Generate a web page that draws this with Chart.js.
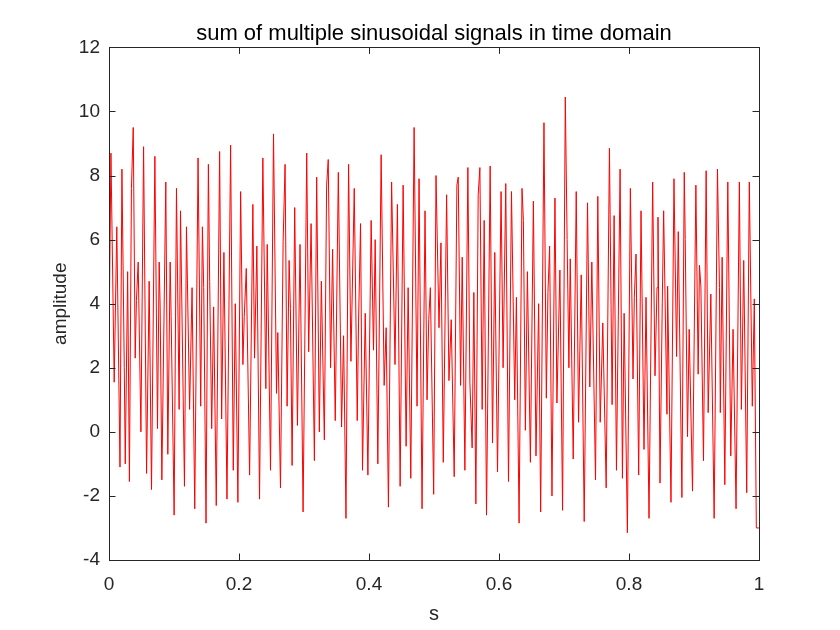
<!DOCTYPE html>
<html>
<head>
<meta charset="utf-8">
<script src="https://cdn.jsdelivr.net/npm/chart.js@4.4.1/dist/chart.umd.min.js"></script>
<style>
  html, body { margin: 0; padding: 0; background: #fff; }
  #wrap { width: 840px; height: 630px; }
</style>
</head>
<body>
<div id="wrap"><canvas id="grafico" width="840" height="630"></canvas></div>
<script>
const tempos = [
  0, 0.003, 0.008, 0.012, 0.0169, 0.0199, 0.0235, 0.025, 0.0287, 0.0314,
  0.0345, 0.0373, 0.0403, 0.0422, 0.0449, 0.0491, 0.0532, 0.0578, 0.0618, 0.0654,
  0.0706, 0.0746, 0.0772, 0.0787, 0.0813, 0.0874, 0.0905, 0.0941, 0.0956, 0.1002,
  0.1038, 0.1079, 0.110, 0.1161, 0.1192, 0.1240,
  0.1278, 0.1319, 0.137, 0.1411, 0.1437, 0.1457, 0.1493, 0.1529, 0.1549, 0.158,
  0.161, 0.165, 0.1702, 0.1733, 0.1768, 0.1815, 0.1871, 0.1912, 0.1943, 0.1983,
  0.2025, 0.206, 0.2081, 0.2112, 0.2163, 0.2213, 0.2239, 0.2275, 0.2316, 0.2367,
  0.2413, 0.2434, 0.2485,
  0.2531, 0.2577, 0.2597, 0.2638, 0.2679, 0.2709, 0.274, 0.2771, 0.2791, 0.2817,
  0.2857, 0.2899, 0.2939, 0.2986, 0.3042, 0.3072, 0.3109, 0.316, 0.3195, 0.3236,
  0.3267, 0.3313, 0.3348, 0.3373, 0.3409, 0.344, 0.3481, 0.3528, 0.3578, 0.3609,
  0.3646, 0.3686,
  0.3722, 0.3773, 0.3819, 0.3839, 0.387, 0.39, 0.3942, 0.3983, 0.4033, 0.4069,
  0.4095, 0.4136, 0.4187, 0.4233, 0.4264, 0.4299, 0.4348, 0.44, 0.4437, 0.4479,
  0.4525, 0.4571, 0.4602, 0.4643, 0.4694, 0.4739, 0.477, 0.4816, 0.4862, 0.4893,
  0.4919,
  0.4944, 0.4995, 0.5031, 0.5077, 0.5107, 0.5143, 0.5194, 0.523, 0.5265, 0.5311,
  0.5352, 0.5373, 0.5409, 0.5434, 0.5475, 0.5521, 0.5552, 0.5587, 0.5613, 0.5644,
  0.568, 0.5706, 0.5741, 0.5772, 0.5808, 0.5864, 0.59, 0.5935, 0.5977, 0.6032,
  0.6063, 0.6104, 0.6146,
  0.6192, 0.6242, 0.6268, 0.6309, 0.6354, 0.6375, 0.6406, 0.6437, 0.6483, 0.6529,
  0.6569, 0.661, 0.6641, 0.6692, 0.6728, 0.6753, 0.6779, 0.6815, 0.6861, 0.6891,
  0.6937, 0.6978, 0.702, 0.7048, 0.7075, 0.7096, 0.7142, 0.7188, 0.7224, 0.7265,
  0.7311, 0.7362,
  0.7397, 0.7428, 0.7485, 0.752, 0.7557, 0.7597, 0.7649, 0.7699, 0.774, 0.7771,
  0.7807, 0.7863, 0.7899, 0.7925, 0.7975, 0.8021, 0.8062, 0.8082, 0.8108, 0.8149,
  0.8185, 0.8231, 0.8262, 0.8308, 0.8364, 0.84, 0.8431, 0.8446, 0.8477, 0.8512,
  0.8533, 0.8584,
  0.8594, 0.8646, 0.8692, 0.8732, 0.8758, 0.8814, 0.885, 0.8865, 0.89, 0.8926,
  0.8977, 0.9029, 0.9064, 0.9084, 0.9106, 0.9146, 0.9187, 0.9218, 0.9259, 0.931,
  0.9361, 0.9392, 0.9405, 0.9433, 0.9474, 0.952, 0.9566, 0.9601, 0.9647, 0.9698,
  0.9729, 0.9765, 0.9811, 0.9851, 0.9897, 0.9928, 0.9959, 1.0
];

const amplitudes = [
  2.7, 8.7, 1.55, 6.4, -1.1, 8.2, 2.0, -1.0, 5.0, -1.55,
  7.6, 9.5, 2.3, 4.1, 5.3, 0.0, 8.9, -1.3, 4.7, -1.8,
  8.6, 0.1, 5.3, 3.9, -1.5, 7.8, -0.7, 5.3, 3.6, -2.6,
  7.6, 0.7, 6.9, -1.7, 6.4, 0.7,
  4.5, -2.4, 8.55, 0.8, 6.4, 4.5, -2.85, 8.35, 4.7, 0.1,
  3.9, -2.3, 8.75, 0.4, 5.6, -2.1, 8.95, -1.2, 4.0, -2.2,
  7.5, 2.1, 3.6, 5.1, -1.35, 7.1, 2.3, 5.8, -2.1, 8.55,
  1.35, 5.85, -1.2,
  9.3, 1.2, 3.1, -1.75, 5.95, 8.35, 0.8, 5.35, 3.85, -1.05,
  7.0, 0.2, 5.85, -2.5, 8.7, 2.5, 6.5, -0.9, 7.95, 0.0,
  4.7, -0.25, 7.7, 8.5, 2.0, 5.7, 0.35, 8.1, 0.15, 3.0,
  -2.7, 8.35,
  2.2, 7.6, 0.35, 3.4, 6.5, -1.2, 3.7, -1.35, 6.6, 2.55,
  6.0, -1.0, 8.65, 1.45, 3.25, -2.35, 7.8, 2.1, 7.1, -1.7,
  7.7, -0.45, 4.5, -1.45, 9.5, 0.8, 7.9, -2.4, 6.9, 1.0,
  3.5,
  4.5, -1.95, 8.0, 3.25, 5.9, -0.95, 7.4, 1.6, 3.5, -1.4,
  7.7, 7.95, 1.45, 5.45, -1.2, 8.25, 1.55, -0.5, 4.35, -2.25,
  7.4, 8.25, 0.7, 6.6, -2.6, 8.3, -0.35, 5.6, -1.25, 7.5,
  2.0, 7.75, -1.55,
  7.5, 1.0, 4.2, -2.85, 7.6, 6.6, 0.05, 5.0, -0.95, 7.2,
  -0.75, 4.0, -2.5, 9.65, 1.05, 4.35, 5.8, -2.0, 7.3, 0.9,
  5.05, -2.45, 10.45, 6.0, 2.0, 5.4, -0.85, 7.5, 0.3, 4.9,
  -2.8, 7.15,
  1.4, 5.3, -1.5, 7.35, 0.3, 3.4, -1.75, 8.85, 0.85, 6.75,
  -1.2, 8.2, -1.45, 3.7, -3.15, 7.6, 1.65, 4.2, 5.55, -1.35,
  6.9, -0.55, 4.2, -2.7, 7.8, 1.75, 4.5, 6.7, -1.6, 4.05,
  6.9, 0.55,
  4.55, -2.2, 7.9, 2.35, 6.25, -2.05, 8.1, 6.0, -0.15, 3.2,
  -1.85, 7.7, 1.8, 5.2, 4.55, -0.9, 8.15, 0.6, 4.3, -2.7,
  8.2, 4.5, 0.6, 5.45, -1.65, 7.8, -0.75, 3.2, -2.4, 7.8,
  0.7, 5.35, -1.9, 7.8, 0.8, 4.15, -3.0, -3.0
];

const xTicks = [0, 0.2, 0.4, 0.6, 0.8, 1];
const xTickLabels = ["0", "0.2", "0.4", "0.6", "0.8", "1"];
const yTicks = [-4, -2, 0, 2, 4, 6, 8, 10, 12];
const yTickLabels = ["-4", "-2", "0", "2", "4", "6", "8", "10", "12"];

const corEixo = "#262626";
const fonte = "'Liberation Sans', Arial, Helvetica, sans-serif";

// MATLAB-style box with inward ticks on all four sides
const moldura = {
  id: "moldura",
  afterDatasetsDraw(chart) {
    const ctx = chart.ctx;
    const a = chart.chartArea;
    const sx = chart.scales.x, sy = chart.scales.y;
    const tam = 6.5;
    ctx.save();
    ctx.strokeStyle = corEixo;
    ctx.lineWidth = 1;
    ctx.beginPath();
    xTicks.forEach(function(v) {
      const px = Math.round(sx.getPixelForValue(v)) + 0.5;
      ctx.moveTo(px, a.bottom); ctx.lineTo(px, a.bottom - tam);
      ctx.moveTo(px, a.top); ctx.lineTo(px, a.top + tam);
    });
    yTicks.forEach(function(v) {
      const py = Math.round(sy.getPixelForValue(v)) + 0.5;
      ctx.moveTo(a.left, py); ctx.lineTo(a.left + tam, py);
      ctx.moveTo(a.right, py); ctx.lineTo(a.right - tam, py);
    });
    ctx.stroke();
    ctx.strokeRect(Math.round(a.left) + 0.5, Math.round(a.top) + 0.5,
                   Math.round(a.right - a.left), Math.round(a.bottom - a.top));
    ctx.restore();
  }
};

const pontos = tempos.map(function(t, i) { return { x: t, y: amplitudes[i] }; });

const config = {
  type: "line",
  data: {
    datasets: [{
      data: pontos,
      borderColor: "#ff0000",
      borderWidth: 1,
      pointRadius: 0,
      tension: 0,
      fill: false
    }]
  },
  options: {
    responsive: false,
    animation: false,
    layout: { padding: { left: 28, right: 0, top: 0, bottom: 0 } },
    plugins: {
      legend: { display: false },
      tooltip: { enabled: false },
      title: {
        display: true,
        text: "sum of multiple sinusoidal signals in time domain",
        color: "#000",
        font: { family: fonte, size: 22, weight: "normal" },
        padding: { top: 21, bottom: 0 }
      }
    },
    scales: {
      x: {
        type: "linear",
        min: 0, max: 1,
        afterBuildTicks(s) { s.ticks = xTicks.map(function(v) { return { value: v }; }); },
        afterFit(s) { s.height = 70; },
        grid: { display: true, drawOnChartArea: false, drawTicks: false },
        border: { display: false },
        ticks: {
          color: corEixo, padding: 13,
          font: { family: fonte, size: 19 },
          callback: function(v, i) { return xTickLabels[i]; }
        },
        title: {
          display: true, text: "s", color: corEixo,
          font: { family: fonte, size: 20 },
          padding: { top: 0, bottom: 4 }
        }
      },
      y: {
        type: "linear",
        min: -4, max: 12,
        afterBuildTicks(s) { s.ticks = yTicks.map(function(v) { return { value: v }; }); },
        afterFit(s) { s.width = 81; },
        grid: { display: true, drawOnChartArea: false, drawTicks: false },
        border: { display: false },
        ticks: {
          color: corEixo, padding: 9,
          font: { family: fonte, size: 19 },
          callback: function(v, i) { return yTickLabels[i]; }
        },
        title: {
          display: true, text: "amplitude", color: corEixo,
          font: { family: fonte, size: 19 },
          padding: { top: 21, bottom: 0 }
        }
      },
      // empty right-hand axis that only reserves the margin on the right
      margemDireita: {
        type: "linear",
        position: "right",
        display: true,
        min: -4, max: 12,
        afterFit(s) { s.width = 81; },
        grid: { display: false },
        border: { display: false },
        ticks: { display: false }
      }
    }
  },
  plugins: [moldura]
};

new Chart(document.getElementById("grafico").getContext("2d"), config);
</script>
</body>
</html>
